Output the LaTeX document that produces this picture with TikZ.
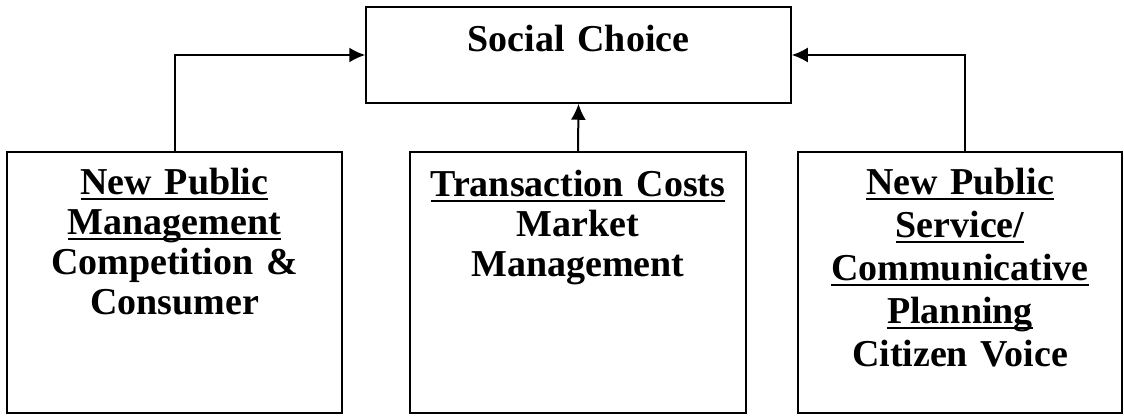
\documentclass[tikz,border=0pt]{standalone}
\usepackage{fontspec}
\setmainfont{Liberation Serif}
\usepackage{tikz}
\usetikzlibrary{arrows.meta,positioning}

% thick underline as in the word-processor original
\newcommand{\undl}[1]{\leavevmode\setbox0\hbox{#1}\rlap{\rule[-6pt]{\wd0}{2.6pt}}\box0}

\tikzset{
    box/.style={draw, line width=1.5pt, inner sep=0pt},
    boxtext/.style={text width=330pt, align=center, inner sep=0pt,
        font=\fontsize{38}{40}\selectfont\bfseries, anchor=base},
    feed/.style={line width=2pt, -{Latex[length=16pt,width=15pt]}}
}

\begin{document}
\begin{tikzpicture}[x=1pt,y=-1pt]
    \useasboundingbox (0,0) rectangle (1124,415);
    \node[box, minimum width=425pt, minimum height=96pt] (choice) at (578.5,55) {};
    \node[box, minimum width=335pt, minimum height=261pt] (npm) at (174.5,282.5) {};
    \node[box, minimum width=336pt, minimum height=261pt] (tc)  at (578,282.5) {};
    \node[box, minimum width=324pt, minimum height=261pt] (nps) at (960,282.5) {};
    \node[boxtext] (choicetxt) [below = 45pt of choice.north, anchor=base] {Social Choice};
    \node[boxtext] (npmtxt) [below = 43pt of npm.north, anchor=base]
        {\undl{New Public}\\ \undl{Management}\\ Competition \&\\ Consumer};
    \node[boxtext] (tctxt) [below = 45pt of tc.north, anchor=base]
        {\undl{Transaction Costs}\\ Market\\ Management};
    \node[boxtext, font=\fontsize{38}{43}\selectfont\bfseries] (npstxt) [below = 43pt of nps.north, anchor=base]
        {\undl{New Public}\\ \undl{Service/}\\ \undl{Communicative}\\ \undl{Planning}\\ Citizen Voice};
    \draw[feed] (npm.north) |- (choice.west);
    \draw[feed] (tc.north) -- (choice.south);
    \draw[feed] ([xshift=5pt]nps.north) |- (choice.east);
\end{tikzpicture}
\end{document}
